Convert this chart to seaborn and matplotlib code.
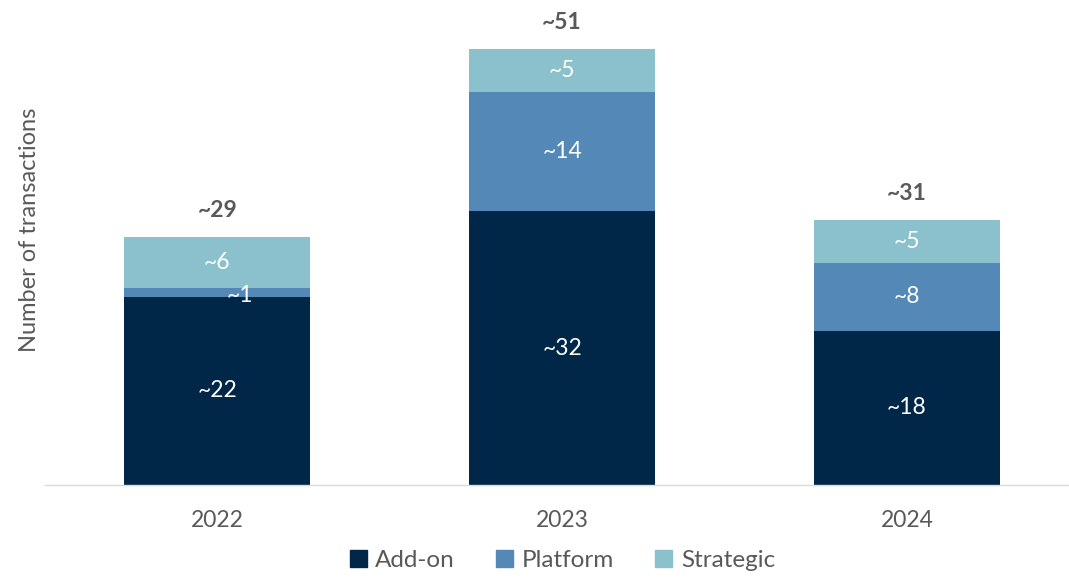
import pandas as pd
import numpy as np
import matplotlib
import seaborn as sns
import matplotlib.pyplot as plt
from matplotlib.patches import Patch

matplotlib.use('Agg')

years = ['2022', '2023', '2024']
add_on = [22, 32, 18]
platform = [1, 14, 8]
strategic = [6, 5, 5]
totals = [29, 51, 31]

c_add = '#002648'
c_plat = '#5388B7'
c_strat = '#8BC1CD'
grey = '#595959'

sns.set_theme(style='white')
plt.rcParams['font.family'] = ['Lato', 'DejaVu Sans']

df = pd.DataFrame({'year': years, 'add_on': add_on, 'platform': platform, 'strategic': strategic})
df['lvl2'] = df['add_on'] + df['platform']
df['lvl3'] = df['lvl2'] + df['strategic']

fig = plt.figure(figsize=(10.69, 5.78), dpi=100)
ax = fig.add_axes([0.042, 0.161, 0.958, 0.839])

# stacked bars by overlaying cumulative heights
sns.barplot(data=df, x='year', y='lvl3', color=c_strat, width=0.54, saturation=1, linewidth=0, ax=ax)
sns.barplot(data=df, x='year', y='lvl2', color=c_plat, width=0.54, saturation=1, linewidth=0, ax=ax)
sns.barplot(data=df, x='year', y='add_on', color=c_add, width=0.54, saturation=1, linewidth=0, ax=ax)

fs = 16.5
for i in range(len(years)):
    ax.text(i, add_on[i] / 2, f'~{add_on[i]}', ha='center', va='center', color='white', fontsize=fs)
    if platform[i] < 3:
        ax.text(i + 0.065, add_on[i] + 0.15, f'~{platform[i]}', ha='center', va='center',
                color='white', fontsize=fs)
    else:
        ax.text(i, add_on[i] + platform[i] / 2, f'~{platform[i]}', ha='center', va='center',
                color='white', fontsize=fs)
    ax.text(i, df['lvl2'][i] + strategic[i] / 2, f'~{strategic[i]}', ha='center', va='center',
            color='white', fontsize=fs)
    ax.annotate(f'~{totals[i]}', (i, df['lvl3'][i]), xytext=(0, 19), textcoords='offset points',
                ha='center', va='center', fontsize=fs, fontweight='bold', color=grey)

ax.set_xlim(-0.5, 2.47)
ax.set_ylim(0, 56.7)
ax.set_yticks([])
ax.set_xlabel('')
ax.set_ylabel('Number of transactions', fontsize=17, color=grey)
ax.yaxis.set_label_coords(-0.005, 0.526)
ax.tick_params(axis='x', length=0, pad=18, labelsize=16.5, labelcolor=grey)
for s in ['top', 'right', 'left']:
    ax.spines[s].set_visible(False)
ax.spines['bottom'].set_color('#D9D9D9')
ax.spines['bottom'].set_linewidth(1)

handles = [Patch(color=c_add, label='Add-on'), Patch(color=c_plat, label='Platform'),
           Patch(color=c_strat, label='Strategic')]
fig.legend(handles=handles, loc='center', bbox_to_anchor=(0.526, 0.03), ncol=3, frameon=False,
           fontsize=17.5, handlelength=0.7, handleheight=0.7, handletextpad=0.35, columnspacing=1.7,
           labelcolor=grey, borderpad=0.1)

fig.savefig('out.png', dpi=100)
